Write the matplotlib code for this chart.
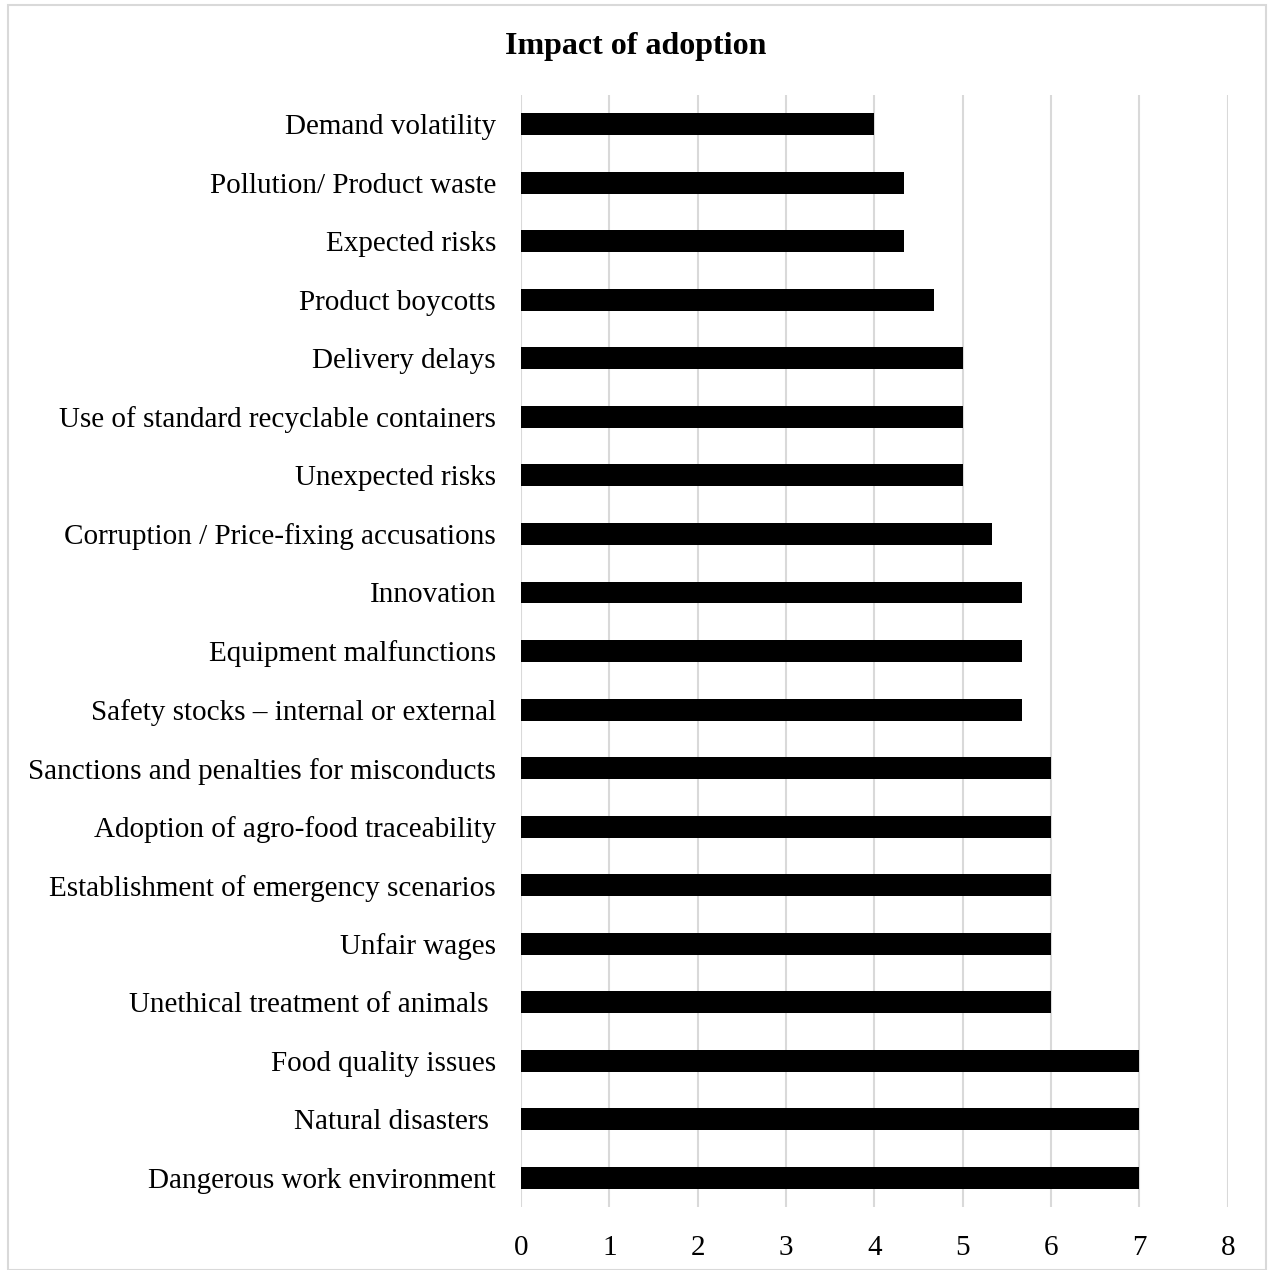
import matplotlib.pyplot as plt
from matplotlib.patches import Rectangle

plt.rcParams['font.family'] = ['Liberation Serif', 'DejaVu Serif']

categories = [
    "Demand volatility",
    "Pollution/ Product waste",
    "Expected risks",
    "Product boycotts",
    "Delivery delays",
    "Use of standard recyclable containers",
    "Unexpected risks",
    "Corruption / Price-fixing accusations",
    "Innovation",
    "Equipment malfunctions",
    "Safety stocks \u2013 internal or external",
    "Sanctions and penalties for misconducts",
    "Adoption of agro-food traceability",
    "Establishment of emergency scenarios",
    "Unfair wages",
    "Unethical treatment of animals ",
    "Food quality issues",
    "Natural disasters ",
    "Dangerous work environment",
]
values = [4, 4.33, 4.33, 4.67, 5, 5, 5, 5.33, 5.67, 5.67, 5.67,
          6, 6, 6, 6, 6, 7, 7, 7]

fig = plt.figure(figsize=(12.71, 12.70), dpi=100)
ax = fig.add_axes([0.41, 0.0496, 0.556, 0.8756])

pos = list(range(len(categories)))
ax.barh(pos, values, height=0.375, color='black', zorder=3)
ax.set_yticks(pos)
ax.set_yticklabels(categories, fontsize=21)
ax.set_ylim(len(categories) - 0.5, -0.5)
ax.set_xlim(0, 8)
ax.set_xticks(range(9))
ax.tick_params(axis='x', labelsize=21, length=0, pad=20)
ax.tick_params(axis='y', length=0, pad=18)
ax.grid(axis='x', color='#d9d9d9', linewidth=1.5, zorder=0)
for s in ax.spines.values():
    s.set_visible(False)

fig.text(0.5, 0.963, "Impact of adoption", ha='center', va='center',
         fontsize=23, fontweight='bold')

fig.patches.append(Rectangle((0.006, 0.0), 0.99, 0.996, transform=fig.transFigure,
                             fill=False, edgecolor='#d9d9d9', linewidth=1.5))

fig.savefig("out.png", dpi=100)
